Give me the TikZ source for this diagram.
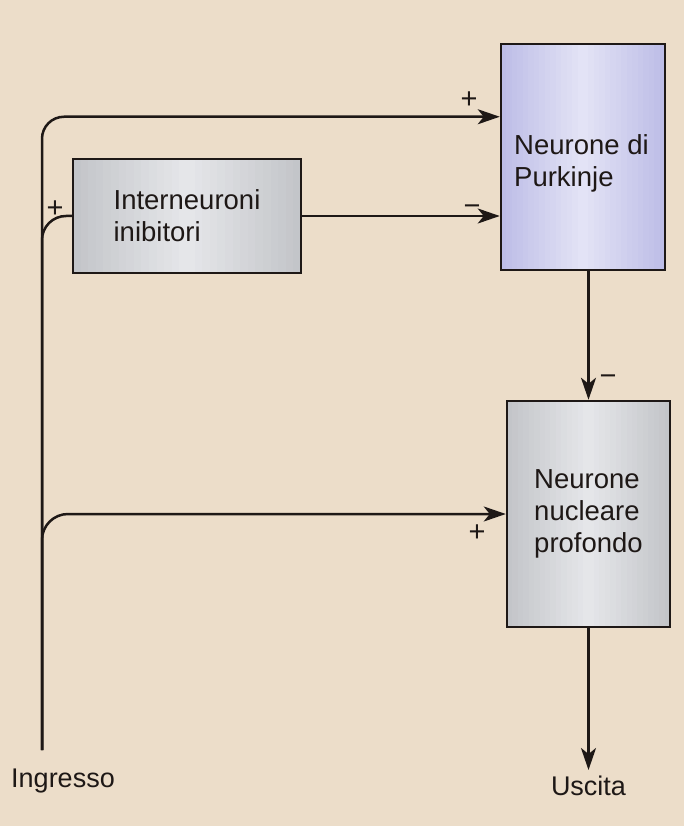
\documentclass[tikz,border=0pt]{standalone}
\usepackage{fontspec}
\setmainfont{Liberation Sans}
\usepackage{xcolor}
\usepackage{tikz}
\usetikzlibrary{positioning,arrows.meta,calc}
\definecolor{bgtan}{RGB}{236,221,201}
\definecolor{lavdark}{RGB}{188,188,230}
\definecolor{lavlight}{RGB}{228,228,246}
\definecolor{greydark}{RGB}{194,196,200}
\definecolor{greylight}{RGB}{230,231,234}
\definecolor{inkline}{RGB}{30,24,22}

\begin{document}
\begin{tikzpicture}[x=1pt, y=1pt]
    % Define styles
    \tikzset{sheen/.style 2 args={path picture={
        \foreach \i in {0,...,29}{
            \pgfmathsetmacro{\tint}{100-abs(\i-14.5)*100/15}
            \fill[#2!\tint!#1] ($(path picture bounding box.south west)!{\i/30}!(path picture bounding box.south east)$) rectangle ($(path picture bounding box.north west)!{(\i+1.05)/30}!(path picture bounding box.north east)$);
        }}}}
    \tikzstyle{celltext} = [align=left, inner sep=0pt, font=\fontsize{27.5}{32}\selectfont, text=inkline]
    \tikzstyle{cell} = [celltext, rectangle, draw=inkline, line width=2.5pt]
    \tikzstyle{greycell} = [cell, sheen={greydark}{greylight}]
    \tikzstyle{lavcell} = [cell, sheen={lavdark}{lavlight}]
    \tikzstyle{wire} = [draw=inkline, line width=2.5pt]
    \tikzstyle{feed} = [wire, -{Stealth[length=22pt, width=15pt, inset=6pt]}]
    \tikzstyle{sign} = [font=\fontsize{29}{29}\selectfont, text=inkline, inner sep=0pt]
    \tikzstyle{caption} = [font=\fontsize{27}{30}\selectfont, text=inkline, inner sep=0pt]

    % Background (y runs downwards through negative values)
    \fill[bgtan] (0,0) rectangle (684,-826);
    \useasboundingbox (0,0) rectangle (684,-826);

    % Cells
    \node [lavcell, minimum width=164pt, minimum height=226pt] (purkinje) at (583,-157) {};
    \node [celltext, anchor=north west] (purkinjetext) at (514,-134) {Neurone di\\Purkinje};
    \node [greycell, minimum width=228pt, minimum height=114pt] (inter) at (187,-216) {Interneuroni\\inibitori};
    \node [greycell, minimum width=163pt, minimum height=226pt] (nucleare) at (588.5,-514) {Neurone\\nucleare\\profondo};

    % Input and output
    \coordinate (in) at (42,-750);
    \coordinate (out) at (588.5,-770);
    \node [caption] (ingresso) at (63,-781) {Ingresso};
    \node [caption, below=6pt of out] (uscita) {Uscita};

    % Connections
    \draw [feed, rounded corners=22pt] (in) |- ([yshift=-74pt]purkinje.north west);
    \draw [wire, rounded corners=24pt] (in) |- (inter.west);
    \draw [feed] (inter.east) -- (inter.east -| purkinje.west);
    \draw [feed, rounded corners=26pt] (in) |- (nucleare.west);
    \draw [feed] (nucleare.north |- purkinje.south) -- (nucleare.north);
    \draw [feed] (nucleare.south) -- (out);

    % Signs
    \node [sign] (plustop) at (469,-100) {+};
    \node [sign] (minustop) at (472,-210) {−};
    \node [sign] (plusinter) at (55,-209) {+};
    \node [sign] (minusdown) at (608,-380) {−};
    \node [sign] (plusnucl) at (477,-533) {+};
\end{tikzpicture}
\end{document}
